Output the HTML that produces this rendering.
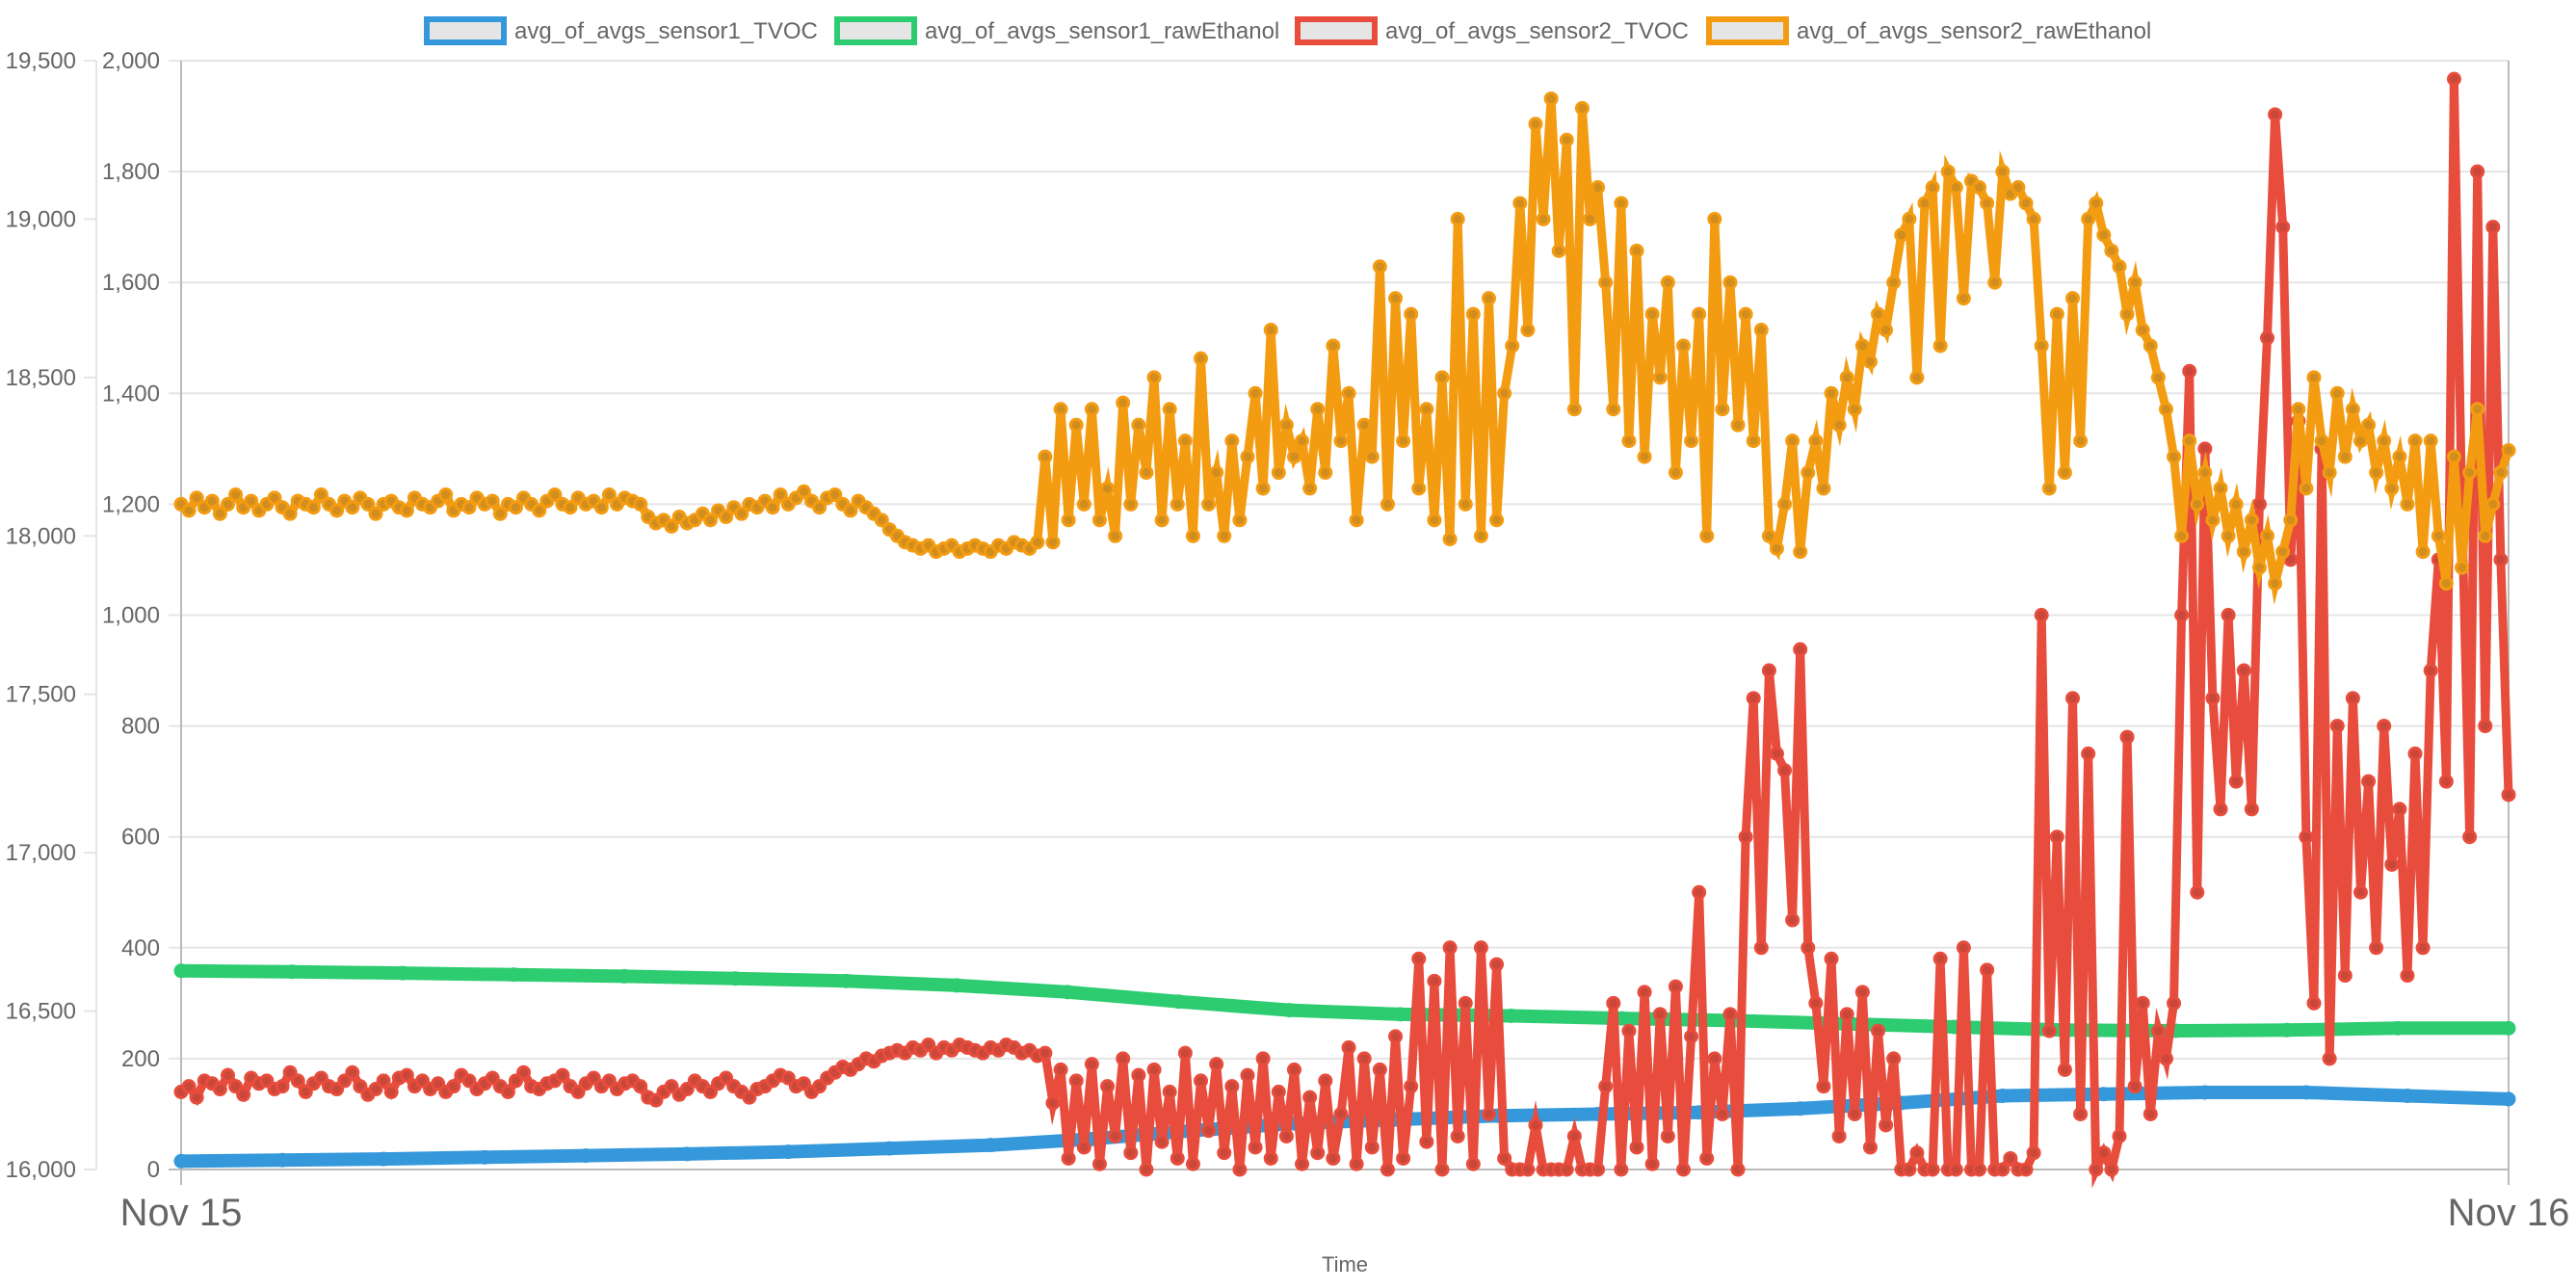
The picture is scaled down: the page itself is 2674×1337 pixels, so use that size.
<!DOCTYPE html>
<html><head><meta charset="utf-8"><style>
html,body{margin:0;padding:0;background:#fff;}
svg{display:block;font-family:"Liberation Sans",Arial,sans-serif;}
</style></head><body>
<svg id="chart" width="2674" height="1337" viewBox="0 0 2674 1337" xmlns="http://www.w3.org/2000/svg">
<g id="grid"></g>
<g id="axes"></g>
<g id="series"></g>
<g id="legend"></g>
</svg>
<script>
const innerTicks=[0,200,400,600,800,1000,1200,1400,1600,1800,2000];
const innerTickLabels=["0","200","400","600","800","1,000","1,200","1,400","1,600","1,800","2,000"];
const outerTicks=[16000,16500,17000,17500,18000,18500,19000,19500];
const outerTickLabels=["16,000","16,500","17,000","17,500","18,000","18,500","19,000","19,500"];
const xTickLabels=["Nov 15","Nov 16"];
const seriesNames=["avg_of_avgs_sensor1_TVOC","avg_of_avgs_sensor1_rawEthanol","avg_of_avgs_sensor2_TVOC","avg_of_avgs_sensor2_rawEthanol"];
const blueTVOC=[15,17,19,22,25,28,32,38,44,55,70,83,90,97,100,103,110,120,133,136,139,139,133,127];
const greenEthanol=[16627,16624,16620,16615,16610,16603,16595,16581,16560,16530,16503,16490,16485,16477,16470,16460,16450,16440,16438,16440,16446,16446];
const redTVOC=[140,150,130,160,155,145,170,150,135,165,
155,160,145,150,175,160,140,155,165,150,
145,160,175,150,135,145,160,140,165,170,
150,160,145,155,140,150,170,160,145,155,
165,150,140,160,175,150,145,155,160,170,
150,140,155,165,150,160,145,155,160,150,
130,125,140,150,135,145,160,150,140,155,165,150,140,130,145,
150,160,170,165,150,155,140,150,165,175,185,180,190,200,195,205,210,215,
210,220,215,225,210,220,215,225,220,215,210,220,215,225,220,210,215,205,
210,120,
180,20,160,40,190,10,150,60,200,30,170,0,180,50,140,20,210,10,160,70,190,30,150,0,170,40,200,20,140,60,180,10,130,30,160,20,100,
220,10,200,40,180,0,240,20,150,
380,50,340,0,400,60,300,10,400,100,370,
20,0,0,0,80,0,0,0,0,60,0,0,0,
150,300,0,250,40,320,10,280,60,330,0,240,500,20,200,100,280,0,
600,850,400,900,750,
720,450,938,400,
300,150,380,60,280,100,320,40,250,80,200,
0,0,30,0,0,380,0,0,400,0,0,360,0,0,20,0,0,30,
1000,250,600,180,850,100,750,
0,30,0,60,
780,150,300,100,250,200,300,
1000,1440,500,1300,
850,650,1000,700,900,650,
1200,1500,1903,1700,1100,1350,
600,300,1300,200,
800,350,850,500,700,400,800,550,650,350,750,400,
900,1100,700,1967,
1200,600,1800,800,1700,1100,676];
const orangeEthanol=[18100,18080,18120,18090,18110,18070,18100,18130,18090,18110,
18080,18100,18120,18090,18070,18110,18100,18090,18130,18100,
18080,18110,18090,18120,18100,18070,18100,18110,18090,18080,
18120,18100,18090,18110,18130,18080,18100,18090,18120,18100,
18110,18070,18100,18090,18120,18100,18080,18110,18130,18100,
18090,18120,18100,18110,18090,18130,18100,18120,18110,18100,
18060,18040,18050,18030,18060,18040,18050,18070,18050,18080,18060,18090,18070,18100,18090,
18110,18090,18130,18100,18120,18140,18110,18090,18120,18130,18100,18080,18110,18090,18070,18050,18020,18000,
17980,17970,17960,17970,17950,17960,17970,17950,17960,17970,17960,17950,17970,17960,17980,17970,17960,17980,
18250,17980,
18400,18050,18350,18100,18400,18050,18150,18000,18420,18100,18350,18200,18500,18050,18400,18100,18300,18000,18560,18100,18200,18000,18300,18050,18250,
18450,18150,18650,18200,18350,18250,18300,18150,18400,18200,18600,18300,18450,
18050,18350,18250,18850,18100,18750,18300,18700,18150,18400,18050,
18500,17990,19000,18100,18700,18000,18750,18050,
18450,18600,
19050,18650,19300,19000,19380,18900,19250,18400,19350,19000,19100,
18800,18400,19050,18300,18900,18250,18700,18500,
18800,18200,18600,18300,18700,18000,19000,18400,18800,18350,18700,18300,18650,18000,17960,
18100,18300,17950,18200,
18300,18150,18450,18350,18500,18400,18600,18550,18700,18650,18800,
18950,19000,18500,19050,19100,18600,19150,19100,18750,19120,19100,19050,18800,19150,19080,19100,19050,19000,
18600,18150,18700,18200,18750,18300,
19000,19050,18950,18900,18850,18700,18800,18650,18600,18500,18400,
18250,18000,18300,18100,18200,18050,18150,18000,18100,17950,18050,17900,18000,17850,17950,18050,
18400,18150,18500,18300,18200,18450,18250,18400,18300,18350,18200,18300,18150,18250,18100,18300,
17950,18300,18000,17850,18250,17900,18200,18400,18000,18100,18200,18270];

const NS="http://www.w3.org/2000/svg";
const L=188,R=2604,T=63,B=1214;
function xS(f){return L+f*(R-L);}
function yIn(v){return B-(v/2000)*(B-T);}
function yOut(v){return B-((v-16000)/3500)*(B-T);}
function mk(tag,attrs,parent){const e=document.createElementNS(NS,tag);for(const k in attrs)e.setAttribute(k,attrs[k]);parent.appendChild(e);return e;}
const grid=document.getElementById('grid'),axes=document.getElementById('axes'),ser=document.getElementById('series'),leg=document.getElementById('legend');

innerTicks.forEach((v,i)=>{
  const y=yIn(v);
  const g=mk('line',{x1:L-13,x2:R,y1:y,y2:y,stroke:i==0?'#bbbbbb':'#e5e5e5','stroke-width':2},grid);
  
  
  const t=mk('text',{x:166,y:y+8,'text-anchor':'end','font-size':24,fill:'#666'},axes);
  t.textContent=innerTickLabels[i];
  
  
});
outerTicks.forEach((v,i)=>{
  const y=yOut(v);
  const tk=mk('line',{x1:87,x2:100,y1:y,y2:y,stroke:'#e5e5e5','stroke-width':2},axes);
  
  
  const t=mk('text',{x:79,y:y+8,'text-anchor':'end','font-size':24,fill:'#666'},axes);
  t.textContent=outerTickLabels[i];
  
  
});
let a=mk('line',{x1:100,x2:100,y1:T,y2:B,stroke:'#e5e5e5','stroke-width':2},axes);


a=mk('line',{x1:L,x2:L,y1:T,y2:B+16,stroke:'#bbbbbb','stroke-width':2},axes);


a=mk('line',{x1:R,x2:R,y1:T,y2:B+16,stroke:'#bbbbbb','stroke-width':2},axes);


xTickLabels.forEach((s,i)=>{
  const t=mk('text',{x:xS(i),y:1272,'text-anchor':'middle','font-size':40,fill:'#666'},axes);
  t.textContent=s;
  
  
});
const xt=mk('text',{x:1396,y:1320,'text-anchor':'middle','font-size':22,fill:'#666'},axes);
xt.textContent='Time';



function drawSeries(vals,ys,color,name,lw,r,fill){
  const g=mk('g',{},ser);
  
  
  const n=vals.length;
  const pts=vals.map((v,i)=>[xS(i/(n-1)),ys(v)]);
  mk('polyline',{points:pts.map(p=>p[0].toFixed(1)+','+p[1].toFixed(1)).join(' '),fill:'none',stroke:color,'stroke-width':lw,'stroke-linejoin':'miter','stroke-miterlimit':6},g);
  pts.forEach(p=>{
    const c=mk('circle',{cx:p[0],cy:p[1],r:r,fill:fill,stroke:color,'stroke-width':3},g);
    
    
  });
}
drawSeries(blueTVOC,yIn,'#3498db','series-sensor1-tvoc',14,6,'#3498db');
drawSeries(greenEthanol,yOut,'#2ecc71','series-sensor1-rawethanol',14,6,'#2ecc71');
drawSeries(redTVOC,yIn,'#e74c3c','series-sensor2-tvoc',9,6,'#c9483a');
drawSeries(orangeEthanol,yOut,'#f39c12','series-sensor2-rawethanol',9,6,'#d18d1e');

const legColors=['#3498db','#2ecc71','#e74c3c','#f39c12'];
const legX=[440,866,1344,1771];
seriesNames.forEach((s,i)=>{
  const g=mk('g',{},leg);
  
  
  mk('rect',{x:legX[i]+3,y:20,width:80,height:24,fill:'#e5e5e5',stroke:legColors[i],'stroke-width':6},g);
  const t=mk('text',{x:legX[i]+94,y:40,'font-size':24,fill:'#666'},g);
  t.textContent=s;
});
</script>
</body></html>
